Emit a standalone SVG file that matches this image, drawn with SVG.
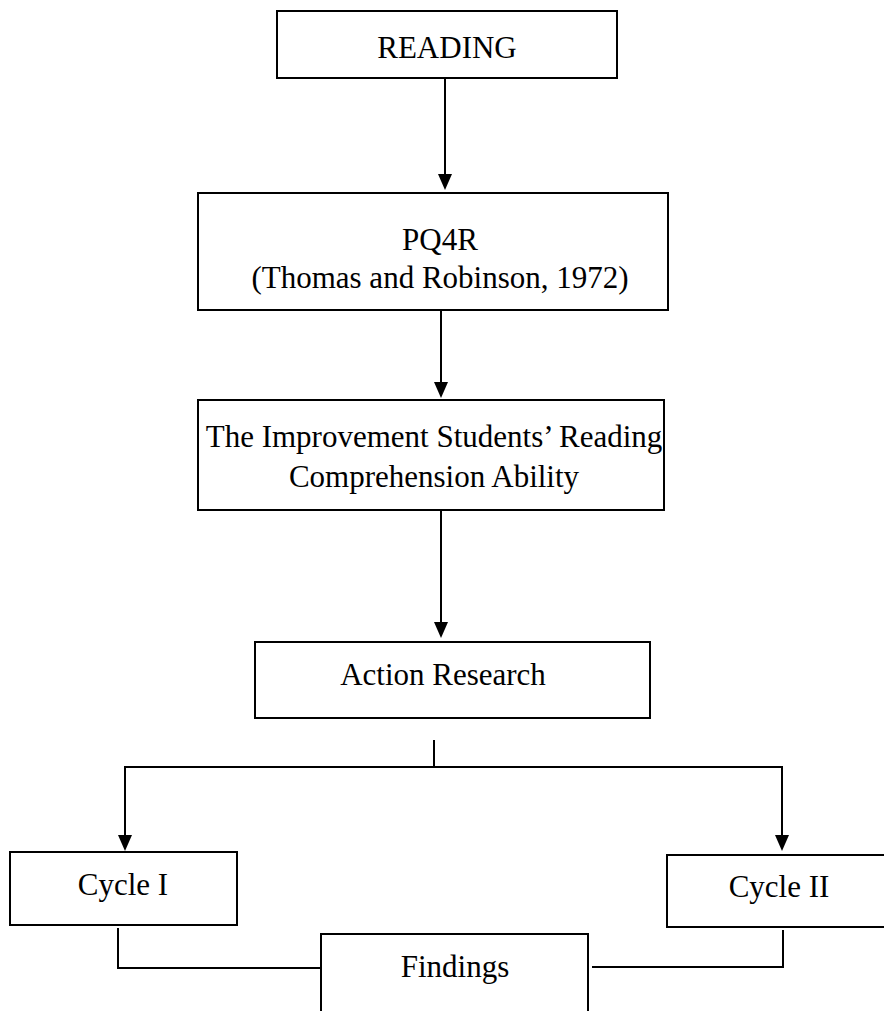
<svg xmlns="http://www.w3.org/2000/svg" width="884" height="1011" viewBox="0 0 884 1011">
<defs>
<style>
.box{fill:#fff;stroke:#000;stroke-width:2}
.t{font-family:"Liberation Serif","Times New Roman",serif;font-size:31px;fill:#000;text-anchor:middle}
.ln{fill:none;stroke:#000;stroke-width:2}
.ah{fill:#000}
</style>
</defs>
<rect width="884" height="1011" fill="#fff"/>
<g id="connectors">
<line class="ln" x1="445" y1="78" x2="445" y2="176"/>
<path class="ah" d="M438,174 L452,174 L445,190 Z"/>
<line class="ln" x1="441" y1="310" x2="441" y2="384"/>
<path class="ah" d="M434,382 L448,382 L441,398 Z"/>
<line class="ln" x1="441" y1="510" x2="441" y2="624"/>
<path class="ah" d="M434,622 L448,622 L441,638 Z"/>
<line class="ln" x1="434" y1="740" x2="434" y2="766"/>
<line class="ln" x1="124" y1="767" x2="783" y2="767"/>
<line class="ln" x1="125" y1="767" x2="125" y2="837"/>
<path class="ah" d="M118,835 L132,835 L125,851 Z"/>
<line class="ln" x1="782" y1="767" x2="782" y2="837"/>
<path class="ah" d="M775,835 L789,835 L782,851 Z"/>
<polyline class="ln" points="118,928 118,968 320,968"/>
<polyline class="ln" points="592,967 783,967 783,930"/>
</g>
<g id="reading">
<rect class="box" x="277" y="11" width="340" height="67"/>
<text class="t" x="447" y="58">READING</text>
</g>
<g id="pq4r">
<rect class="box" x="198" y="193" width="470" height="117"/>
<text class="t" x="440" y="250">PQ4R</text>
<text class="t" x="440" y="288">(Thomas and Robinson, 1972)</text>
</g>
<g id="improvement">
<rect class="box" x="198" y="400" width="466" height="110"/>
<text class="t" x="434" y="447">The Improvement Students’ Reading</text>
<text class="t" x="434" y="487">Comprehension Ability</text>
</g>
<g id="action">
<rect class="box" x="255" y="642" width="395" height="76"/>
<text class="t" x="443" y="685">Action Research</text>
</g>
<g id="cycle1">
<rect class="box" x="10" y="852" width="227" height="73"/>
<text class="t" x="123" y="895">Cycle I</text>
</g>
<g id="cycle2">
<rect class="box" x="667" y="855" width="230" height="72"/>
<text class="t" x="779" y="897">Cycle II</text>
</g>
<g id="findings">
<rect class="box" x="321" y="934" width="267" height="90"/>
<text class="t" x="455" y="977">Findings</text>
</g>
</svg>
